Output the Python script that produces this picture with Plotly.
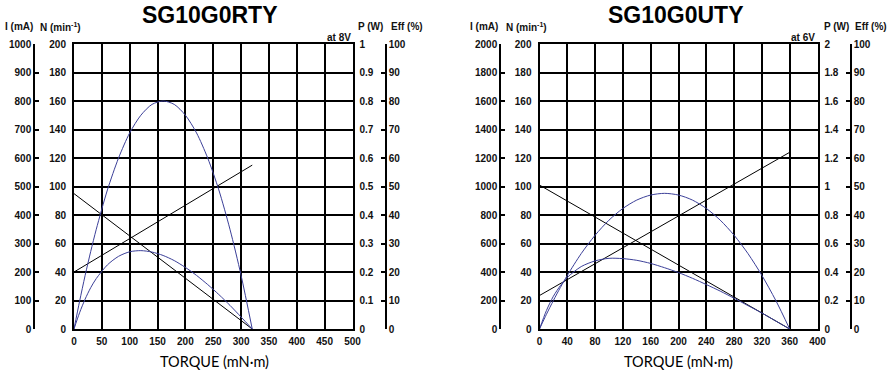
import plotly.graph_objects as go

W, H = 892, 376

# ---------------- data: SG10G0RTY (at 8V) ----------------
torque_L = [0, 10, 20, 30, 40, 60, 80, 100, 120, 140, 160, 180, 200, 220, 240, 260, 280, 300, 320]
power_L = [0, 0.097, 0.188, 0.272, 0.350, 0.488, 0.600, 0.688, 0.750, 0.788, 0.800, 0.788, 0.750,
           0.688, 0.600, 0.488, 0.350, 0.188, 0]
eff_L = [0, 5.7, 10.5, 14.5, 17.7, 22.5, 25.5, 27.1, 27.5, 27.0, 25.8, 24.0, 21.6, 18.8, 15.6,
         12.1, 8.3, 4.2, 0]
speed_torque_L = [0, 320]
speed_L = [95, 0]
current_torque_L = [0, 320]
current_L = [200, 575]

# ---------------- data: SG10G0UTY (at 6V) ----------------
torque_R = [0, 10, 20, 30, 40, 60, 80, 100, 120, 140, 160, 180, 200, 220, 240, 260, 280, 300, 320, 340, 360]
power_R = [0, 0.103, 0.200, 0.291, 0.376, 0.529, 0.658, 0.764, 0.846, 0.905, 0.940, 0.952, 0.940,
           0.905, 0.846, 0.764, 0.658, 0.529, 0.376, 0.200, 0]
eff_R = [0, 6.5, 11.5, 15.2, 18.1, 21.9, 23.9, 24.8, 24.7, 24.1, 23.0, 21.5, 19.8, 17.8, 15.6,
         13.3, 10.8, 8.2, 5.6, 2.8, 0]
speed_torque_R = [0, 360]
speed_R = [101, 0]
current_torque_R = [0, 360]
current_R = [235, 1240]

# ---------------- tick labels ----------------
x_ticks_L = [0, 50, 100, 150, 200, 250, 300, 350, 400, 450, 500]
x_ticks_R = [0, 40, 80, 120, 160, 200, 240, 280, 320, 360, 400]
n_ticks = [0, 20, 40, 60, 80, 100, 120, 140, 160, 180, 200]
i_ticks_L = [0, 100, 200, 300, 400, 500, 600, 700, 800, 900, 1000]
i_ticks_R = [0, 200, 400, 600, 800, 1000, 1200, 1400, 1600, 1800, 2000]
p_ticks_L = [0, 0.1, 0.2, 0.3, 0.4, 0.5, 0.6, 0.7, 0.8, 0.9, 1]
p_labels_L = ["0", "0.1", "0.2", "0.3", "0.4", "0.5", "0.6", "0.7", "0.8", "0.9", "1"]
p_ticks_R = [0, 0.2, 0.4, 0.6, 0.8, 1, 1.2, 1.4, 1.6, 1.8, 2]
p_labels_R = ["0", "0.2", "0.4", "0.6", "0.8", "1", "1.2", "1.4", "1.6", "1.8", "2"]
eff_ticks = [0, 10, 20, 30, 40, 50, 60, 70, 80, 90, 100]

titles = ["SG10G0RTY", "SG10G0UTY"]
voltages = ["at 8V", "at 6V"]

BLUE = "#3b3f98"
BLACK = "#000000"
FONT = "Liberation Sans, Arial, sans-serif"
TICKFONT = dict(family=FONT, size=10, color="#111111", weight="bold")

def px(x):
    return x / W

def py(y):
    return 1 - y / H

ydom = [py(329), py(44)]

fig = go.Figure()

panels = [
    dict(xa="x", xname="xaxis", xd=[px(74), px(352.5)], xrange=[0, 500], xt=x_ticks_L,
         yN="y", yI="y2", yP="y3", yE="y4", names=["yaxis", "yaxis2", "yaxis3", "yaxis4"],
         ipos=px(34), epos=px(386), irange=[0, 1000], it=i_ticks_L,
         prange=[0, 1], pt=p_ticks_L, pl=p_labels_L,
         T=torque_L, P=power_L, E=eff_L, st=speed_torque_L, s=speed_L, ct=current_torque_L, c=current_L),
    dict(xa="x2", xname="xaxis2", xd=[px(539.5), px(817.5)], xrange=[0, 400], xt=x_ticks_R,
         yN="y5", yI="y6", yP="y7", yE="y8", names=["yaxis5", "yaxis6", "yaxis7", "yaxis8"],
         ipos=px(500), epos=px(851), irange=[0, 2000], it=i_ticks_R,
         prange=[0, 2], pt=p_ticks_R, pl=p_labels_R,
         T=torque_R, P=power_R, E=eff_R, st=speed_torque_R, s=speed_R, ct=current_torque_R, c=current_R),
]

layout = {}
for k, p in enumerate(panels):
    # traces
    fig.add_trace(go.Scatter(x=p["st"], y=p["s"], xaxis=p["xa"], yaxis=p["yN"], mode="lines",
                             line=dict(color=BLACK, width=1), hoverinfo="skip", showlegend=False))
    fig.add_trace(go.Scatter(x=p["ct"], y=p["c"], xaxis=p["xa"], yaxis=p["yI"], mode="lines",
                             line=dict(color=BLACK, width=1), hoverinfo="skip", showlegend=False))
    fig.add_trace(go.Scatter(x=p["T"], y=p["P"], xaxis=p["xa"], yaxis=p["yP"], mode="lines",
                             line=dict(color=BLUE, width=1, shape="spline", smoothing=0.8),
                             hoverinfo="skip", showlegend=False))
    fig.add_trace(go.Scatter(x=p["T"], y=p["E"], xaxis=p["xa"], yaxis=p["yE"], mode="lines",
                             line=dict(color=BLUE, width=1, shape="spline", smoothing=0.8),
                             hoverinfo="skip", showlegend=False))

    nN, nI, nP, nE = p["names"]
    layout[p["xname"]] = dict(domain=p["xd"], range=p["xrange"], anchor=p["yN"],
                              tickvals=p["xt"], ticktext=[str(v) for v in p["xt"]],
                              showgrid=True, gridcolor=BLACK, gridwidth=1.5,
                              showline=True, mirror=True, linecolor=BLACK, linewidth=2,
                              ticks="", tickfont=TICKFONT, zeroline=False, fixedrange=True,
                              ticklabelstandoff=2, automargin=False)
    layout[nN] = dict(domain=ydom, range=[0, 200], anchor=p["xa"], side="left",
                      tickvals=n_ticks, ticktext=[str(v) for v in n_ticks],
                      showgrid=True, gridcolor=BLACK, gridwidth=1.5,
                      showline=True, mirror=True, linecolor=BLACK, linewidth=2,
                      ticks="", tickfont=TICKFONT, zeroline=False, fixedrange=True,
                      ticklabelstandoff=4, automargin=False)
    layout[nI] = dict(domain=ydom, range=p["irange"], overlaying=p["yN"], anchor="free",
                      position=p["ipos"], side="left",
                      tickvals=p["it"], ticktext=[str(v) for v in p["it"]],
                      showgrid=False, showline=True, linecolor=BLACK, linewidth=1.5,
                      ticks="inside", ticklen=4, tickwidth=1.5, tickcolor=BLACK,
                      tickfont=TICKFONT, zeroline=False, fixedrange=True, automargin=False)
    layout[nP] = dict(domain=ydom, range=p["prange"], overlaying=p["yN"], anchor=p["xa"], side="right",
                      tickvals=p["pt"], ticktext=p["pl"],
                      showgrid=False, showline=False, ticks="",
                      tickfont=TICKFONT, zeroline=False, fixedrange=True, ticklabelstandoff=6,
                      automargin=False)
    layout[nE] = dict(domain=ydom, range=[0, 100], overlaying=p["yN"], anchor="free",
                      position=p["epos"], side="right",
                      tickvals=eff_ticks, ticktext=[str(v) for v in eff_ticks],
                      showgrid=False, showline=True, linecolor=BLACK, linewidth=1.5,
                      ticks="inside", ticklen=4, tickwidth=1.5, tickcolor=BLACK,
                      tickfont=TICKFONT, zeroline=False, fixedrange=True, automargin=False)

fig.update_layout(**layout)

ann = []
HDR = dict(family=FONT, size=10, color="#111111", weight="bold")
header_pos = [
    [("I (mA)", 19), ("N (min<sup>-1</sup>)", 60.5), ("P (W)", 370), ("Eff (%)", 407)],
    [("I (mA)", 484), ("N (min<sup>-1</sup>)", 526), ("P (W)", 836), ("Eff (%)", 870.5)],
]
title_x = [209.5, 676]
torque_x = [214, 678]
volt_x = [352.5, 817]
for k in range(2):
    ann.append(dict(text=titles[k], x=px(title_x[k]), y=py(15.5), xref="paper", yref="paper",
                    showarrow=False, xanchor="center", yanchor="middle",
                    font=dict(family=FONT, size=23, color="#000000", weight="bold")))
    ann.append(dict(text="TORQUE (mN·m)", x=px(torque_x[k]), y=py(361.5), xref="paper", yref="paper",
                    showarrow=False, xanchor="center", yanchor="middle",
                    font=dict(family="Lato, Noto Sans, sans-serif", size=14.5, color="#000000")))
    ann.append(dict(text=voltages[k], x=px(volt_x[k]), y=py(37.5), xref="paper", yref="paper",
                    showarrow=False, xanchor="right", yanchor="middle", font=HDR))
    for txt, xc in header_pos[k]:
        ann.append(dict(text=txt, x=px(xc), y=py(27), xref="paper", yref="paper",
                        showarrow=False, xanchor="center", yanchor="middle", font=HDR))

fig.update_layout(annotations=ann, width=W, height=H, margin=dict(l=0, r=0, t=0, b=0),
                  paper_bgcolor="white", plot_bgcolor="white", showlegend=False)

fig.write_html("out.html", config={"displayModeBar": False},
               post_script="document.body.style.margin='0';document.body.style.padding='0';")
